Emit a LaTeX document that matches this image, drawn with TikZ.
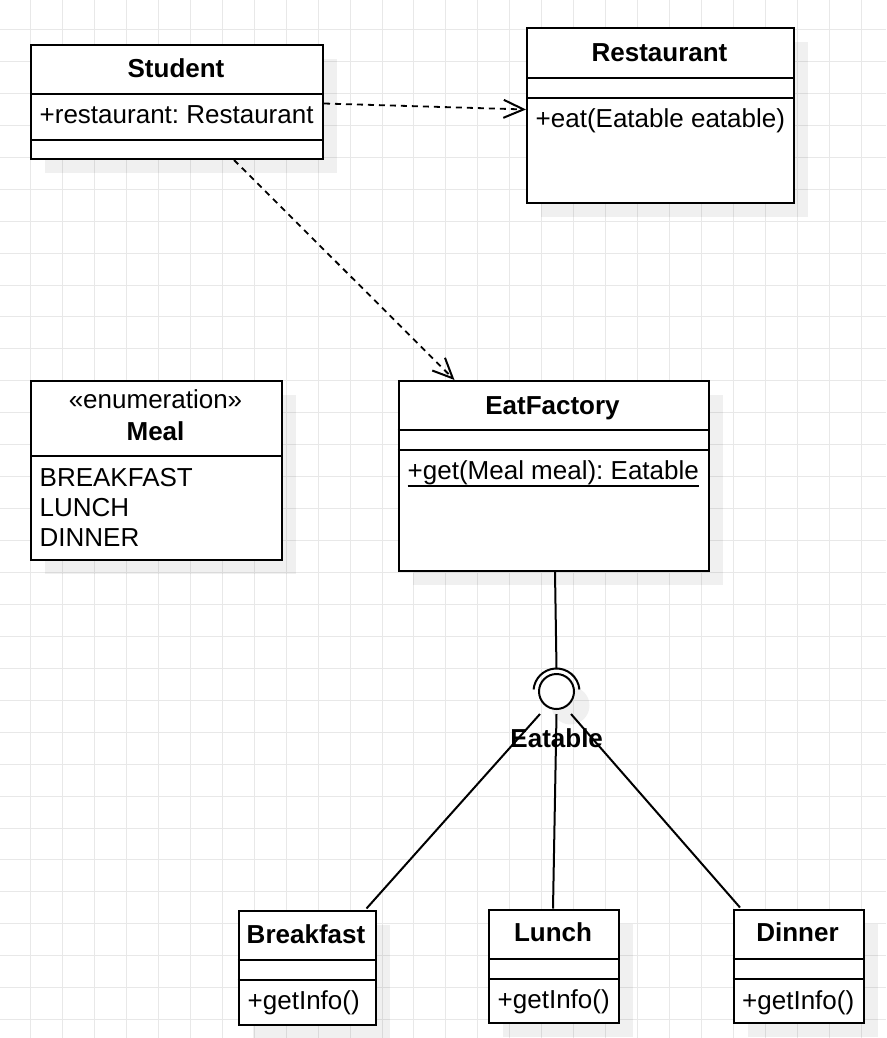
\documentclass[tikz,border=0pt]{standalone}
\usepackage{fontspec}
\setmainfont{Liberation Sans}
\usetikzlibrary{arrows.meta,shadows,calc}
\definecolor{gridc}{RGB}{232,232,232}
\frenchspacing
\tikzset{
  cls/.style={draw, line width=2pt, fill=white, anchor=north west, inner sep=0pt,
    general shadow={fill=black, opacity=0.06, shadow xshift=14pt, shadow yshift=-14pt}},
  lab/.style={font=\fontsize{26}{30}\selectfont\frenchspacing, inner sep=0pt},
  ttl/.style={font=\fontsize{26}{30}\selectfont\bfseries, inner sep=0pt, anchor=base},
  sep/.style={line width=2pt},
  dep/.style={line width=1.8pt, dash pattern=on 6pt off 5pt,
    -{Straight Barb[length=20pt,width=18pt,line width=2pt]}},
  conn/.style={line width=2pt},
}
\begin{document}
\begin{tikzpicture}[x=1pt,y=-1pt]
\useasboundingbox (0,0) rectangle (886,1038);
\fill[white] (0,0) rectangle (886,1038);
% grid
\foreach \i in {0,...,27} \draw[gridc, line width=1pt] ({30.7+31.94*\i},0) -- ({30.7+31.94*\i},1038);
\foreach \i in {0,...,31} \draw[gridc, line width=1pt] (0,{29.5+31.94*\i}) -- (886,{29.5+31.94*\i});

% Student
\node[cls, minimum width=292pt, minimum height=114pt] (student) at (30,44) {};
\draw[sep] ($(student.north west)+(0,50)$) -- ($(student.north east)+(0,50)$);
\draw[sep] ($(student.north west)+(0,96)$) -- ($(student.north east)+(0,96)$);
\node[ttl] (studentT) at (176,78) {Student};
\node[lab, anchor=base west] (studentA) at (39.5,124) {+restaurant: Restaurant};

% Restaurant
\node[cls, minimum width=267pt, minimum height=174pt] (restaurant) at (526,27.5) {};
\draw[sep] ($(restaurant.north west)+(0,50.2)$) -- ($(restaurant.north east)+(0,50.2)$);
\draw[sep] ($(restaurant.north west)+(0,70.2)$) -- ($(restaurant.north east)+(0,70.2)$);
\node[ttl] (restaurantT) at (659.5,62) {Restaurant};
\node[lab, anchor=base west] (restaurantO) at (535.5,128) {+eat(Eatable eatable)};

% Meal
\node[cls, minimum width=251pt, minimum height=179pt] (meal) at (30,380) {};
\draw[sep] ($(meal.north west)+(0,76)$) -- ($(meal.north east)+(0,76)$);
\node[lab, anchor=base] (mealS) at (155.5,408.5) {«enumeration»};
\node[ttl] (mealT) at (155.5,440) {Meal};
\node[lab, anchor=base west] (mealB) at (39.5,486) {BREAKFAST};
\node[lab, anchor=base west] (mealL) at (39.5,516) {LUNCH};
\node[lab, anchor=base west] (mealD) at (39.5,546) {DINNER};

% EatFactory
\node[cls, minimum width=310pt, minimum height=190pt] (eatfactory) at (397.5,380) {};
\draw[sep] ($(eatfactory.north west)+(0,50)$) -- ($(eatfactory.north east)+(0,50)$);
\draw[sep] ($(eatfactory.north west)+(0,70)$) -- ($(eatfactory.north east)+(0,70)$);
\node[ttl] (eatfactoryT) at (552.5,414) {EatFactory};
\node[lab, anchor=base west] (eatfactoryO) at (407.5,479.5) {+get(Meal meal): Eatable};
\draw[line width=2pt] ($(eatfactoryO.base west)+(0,6)$) -- ($(eatfactoryO.base east)+(0,6)$);

% Breakfast
\node[cls, minimum width=137pt, minimum height=114pt] (breakfast) at (237.5,910) {};
\draw[sep] ($(breakfast.north west)+(0,50)$) -- ($(breakfast.north east)+(0,50)$);
\draw[sep] ($(breakfast.north west)+(0,69.5)$) -- ($(breakfast.north east)+(0,69.5)$);
\node[ttl] (breakfastT) at (306,943.5) {Breakfast};
\node[lab, anchor=base west] (breakfastO) at (247.5,1009.5) {+getInfo()};

% Lunch
\node[cls, minimum width=130pt, minimum height=113pt] (lunch) at (488,908.5) {};
\draw[sep] ($(lunch.north west)+(0,50)$) -- ($(lunch.north east)+(0,50)$);
\draw[sep] ($(lunch.north west)+(0,70)$) -- ($(lunch.north east)+(0,70)$);
\node[ttl] (lunchT) at (553,941.7) {Lunch};
\node[lab, anchor=base west] (lunchO) at (497.5,1008.5) {+getInfo()};

% Dinner
\node[cls, minimum width=130pt, minimum height=113pt] (dinner) at (732.5,908.5) {};
\draw[sep] ($(dinner.north west)+(0,50)$) -- ($(dinner.north east)+(0,50)$);
\draw[sep] ($(dinner.north west)+(0,70)$) -- ($(dinner.north east)+(0,70)$);
\node[ttl] (dinnerT) at (797.5,941.7) {Dinner};
\node[lab, anchor=base west] (dinnerO) at (742,1009) {+getInfo()};

% Eatable interface (lollipop)
\fill[black, opacity=0.06] (570.5,705.5) circle[radius=19];
\node[circle, draw, fill=white, line width=2pt, minimum size=35pt, inner sep=0pt] (eatable) at (556.5,691.5) {};
\coordinate (socket) at ($(eatable.center)+(0,-23)$);
\draw[line width=2pt] ($(eatable.center)+(-5:23)$) arc[start angle=-5, end angle=-175, radius=23];
\node[ttl] (eatableT) at (556.7,747.5) {Eatable};
\coordinate (eL) at ($(eatable.center)+(-16.5,22.5)$);
\coordinate (eC) at ($(eatable.center)+(0,22.5)$);
\coordinate (eR) at ($(eatable.center)+(14.5,22.5)$);

% connectors
\draw[dep] ($(student.north east)+(0,59.5)$) -- ($(restaurant.north west)+(0,82)$);
\draw[dep] ($(student.south west)+(204,0)$) -- ($(eatfactory.north west)+(57,0)$);
\draw[conn] ($(eatfactory.south)+(1.5,0)$) -- (socket);
\draw[conn] (eL) -- ($(breakfast.north east)+(-10,-1.5)$);
\draw[conn] (eC) -- ($(lunch.north)+(-1,0)$);
\draw[conn] (eR) -- ($(dinner.north west)+(7.5,-1)$);
\end{tikzpicture}
\end{document}
